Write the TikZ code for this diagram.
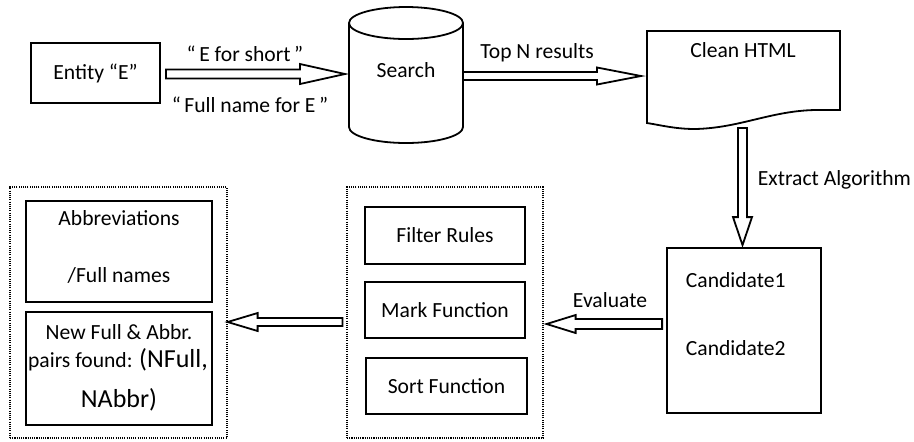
\documentclass[tikz,border=0pt]{standalone}
\usepackage{fontspec}
\setmainfont{Carlito}
\usetikzlibrary{calc,fit}
\newcommand\blockarrow[5]{%
  \coordinate (ba-b) at ($(#2)!#4!(#1)$);
  \draw[blk] ($(#1)!#3!90:(#2)$) -- ($(ba-b)!#3!90:(#2)$) -- ($(ba-b)!#5!90:(#2)$)
    -- (#2) -- ($(ba-b)!#5!-90:(#2)$) -- ($(ba-b)!#3!-90:(#2)$) -- ($(#1)!#3!-90:(#2)$) -- cycle;}
\begin{document}
\begin{tikzpicture}[x=0.5pt,y=-0.5pt, line width=0.9pt,
  font=\fontsize{10.8}{13}\selectfont,
  box/.style={draw, rectangle, inner sep=0pt},
  dotbox/.style={draw, dash pattern=on 0.55pt off 0.55pt, line width=0.6pt, inner sep=0pt},
  blk/.style={draw, line width=0.9pt, line join=miter, fill=white},
  txt/.style={inner sep=0pt},
  big/.style={font=\fontsize{13}{15}\selectfont}]
\useasboundingbox (0,0) rectangle (914,441);

% Entity
\node[box, fit={(31,43) (160,103)}, label={[txt]center:Entity “E”}] (ent) {};
% Cylinder
\draw[fill=white] (349,23) -- (349,127) arc[start angle=180, end angle=0, x radius=57, y radius=16] -- (463,23);
\draw (406,23) ellipse [x radius=57, y radius=16];
\node[txt] (srch) at (406,70) {Search};
\coordinate (cylL) at (349,74);
\coordinate (cylR) at (463,76);
% Clean HTML
\draw (647,31) -- (840,31) -- (840,110) -- (815,110) .. controls (770,111) and (740,128) .. (695,129)
  .. controls (675,129) and (660,125) .. (647,123) -- cycle;
\node[txt] (html) at (743,50) {Clean HTML};
\coordinate (htmlL) at (641,76);
\coordinate (htmlB) at (742.5,128);
% Candidates
\node[box, fit={(667,248) (821,413)}] (cand) {};
\node[txt, anchor=west] (c1) at (685,280) {Candidate1};
\node[txt, anchor=west] (c2) at (685,348) {Candidate2};
% middle group
\node[dotbox, fit={(347,187) (543,438)}] (mid) {};
\node[box, fit={(365,207) (525,264)}, label={[txt]center:Filter Rules}] (filt) {};
\node[box, fit={(365,282) (525,338)}, label={[txt]center:Mark Function}] (mark) {};
\node[box, fit={(366,358) (527,414)}, label={[txt]center:Sort Function}] (sort) {};
% left group
\node[dotbox, fit={(10,187) (227,438)}] (res) {};
\node[box, fit={(26,201) (212,302)}] (abbr) {};
\node[txt] at (119,218) {Abbreviations};
\node[txt] at (119,275) {/Full names};
\node[box, fit={(26,312) (212,425)}] (newp) {};
\node[txt] at (119,332) {New Full \& Abbr.};
\node[txt] at (118,360) {pairs found: {\fontsize{13}{15}\selectfont (NFull,}};
\node[txt, big] at (119,400) {NAbbr)};

% arrows
\coordinate (a1s) at ($(ent.east)+(5,1)$);
\coordinate (a1t) at ($(cylL)+(-4,0)$);
\blockarrow{a1s}{a1t}{2.25pt}{22.5pt}{5pt}
\node[txt] at (245,54) {“\,E for short\,”};
\node[txt] at (250,105) {“\,Full name for E\,”};

\blockarrow{cylR}{htmlL}{2pt}{22pt}{4.25pt}
\node[txt] at (537,53) {Top N results};

\coordinate (a3t) at ($(cand.north)+(-1.5,-2)$);
\blockarrow{htmlB}{a3t}{2.25pt}{14pt}{4.75pt}
\node[txt, anchor=west] at (757,180) {Extract Algorithm};

\coordinate (a4s) at ($(cand.west)+(-4,-6.5)$);
\coordinate (a4t) at ($(mid.east)+(3,11.5)$);
\blockarrow{a4s}{a4t}{2.5pt}{14.5pt}{4.5pt}
\node[txt] at (610,300) {Evaluate};

\coordinate (a5s) at ($(mid.west)+(-4,9.5)$);
\coordinate (a5t) at ($(res.east)+(0,9.5)$);
\blockarrow{a5s}{a5t}{2pt}{15pt}{4.5pt}
\end{tikzpicture}
\end{document}
